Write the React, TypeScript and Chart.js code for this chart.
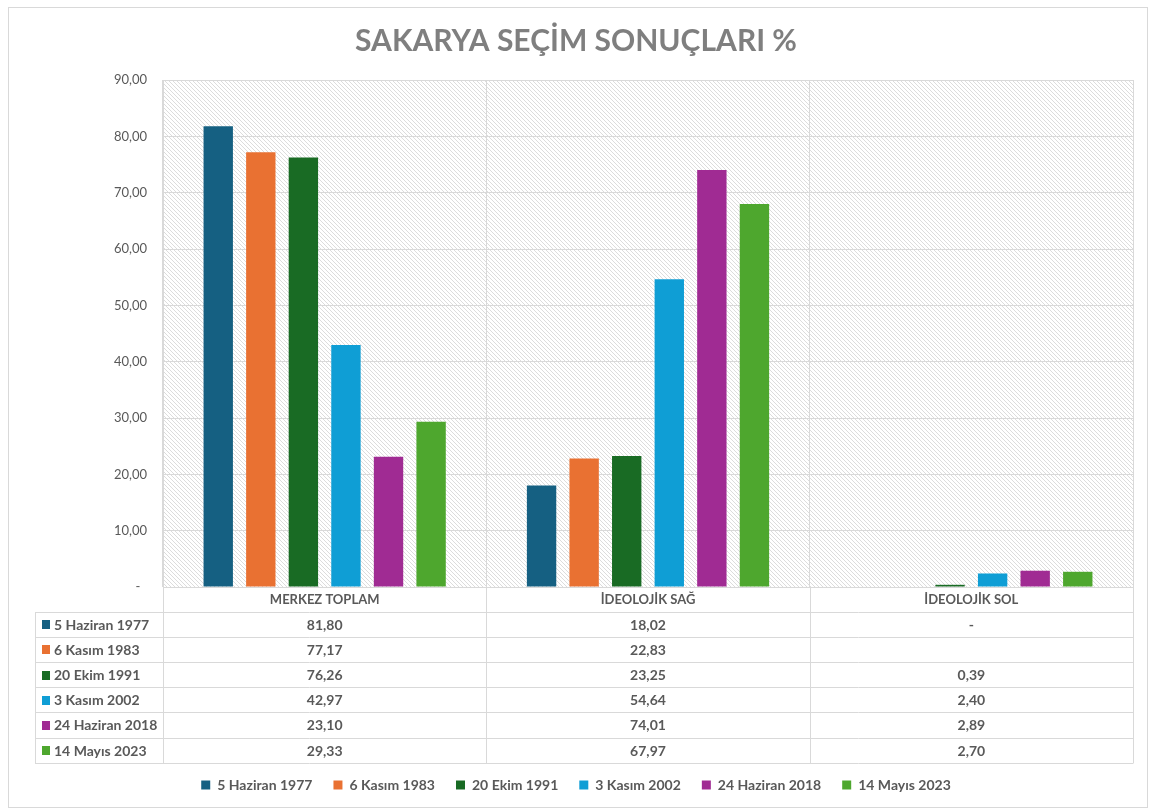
import React, { useEffect, useRef } from "react";
import { Chart, registerables } from "chart.js";

Chart.register(...registerables);

const categories = ["MERKEZ TOPLAM", "İDEOLOJİK SAĞ", "İDEOLOJİK SOL"];
const seriesNames = [
  "5 Haziran 1977",
  "6 Kasım 1983",
  "20 Ekim 1991",
  "3 Kasım 2002",
  "24 Haziran 2018",
  "14 Mayıs 2023",
];
const seriesColors = ["#156082", "#E97132", "#196B24", "#0F9ED5", "#A02B93", "#4EA72E"];
const values1977: (number | null)[] = [81.8, 18.02, 0];
const values1983: (number | null)[] = [77.17, 22.83, null];
const values1991: (number | null)[] = [76.26, 23.25, 0.39];
const values2002: (number | null)[] = [42.97, 54.64, 2.4];
const values2018: (number | null)[] = [23.1, 74.01, 2.89];
const values2023: (number | null)[] = [29.33, 67.97, 2.7];
const seriesValues = [values1977, values1983, values1991, values2002, values2018, values2023];
const yMin = 0;
const yMax = 90;
const yStep = 10;
const titleText = "SAKARYA SEÇİM SONUÇLARI %";

const FONT = "Lato, 'Noto Sans', sans-serif";
const GRID = "#d9d9d9";
const TEXT = "#595959";

function fmt(v: number | null | undefined): string {
  if (v === null || v === undefined) return "";
  if (v === 0) return "-";
  return v.toFixed(2).replace(".", ",");
}

function makePattern(): CanvasPattern | string {
  const c = document.createElement("canvas");
  c.width = 4;
  c.height = 4;
  const g = c.getContext("2d");
  if (!g) return "#f0f0f0";
  g.fillStyle = "#ffffff";
  g.fillRect(0, 0, 4, 4);
  g.fillStyle = "#dcdcdc";
  for (let i = 0; i < 4; i++) g.fillRect(i, i, 1, 1);
  const p = g.createPattern(c, "repeat");
  return p || "#f0f0f0";
}

const bgPlugin = {
  id: "hatchBg",
  beforeDraw(chart: any) {
    const { ctx, chartArea } = chart;
    ctx.save();
    ctx.fillStyle = "#ffffff";
    ctx.fillRect(0, 0, chart.width, chart.height);
    ctx.fillStyle = makePattern();
    ctx.fillRect(chartArea.left, chartArea.top, chartArea.right - chartArea.left, chartArea.bottom - chartArea.top);
    ctx.restore();
  },
};

const tablePlugin = {
  id: "dataTable",
  afterDraw(chart: any) {
    const { ctx, chartArea, scales } = chart;
    const xs = scales.x;
    const left = chartArea.left;
    const right = chartArea.right;
    const bottom = chartArea.bottom;
    const headerH = 24.5;
    const rowH = 25.2;
    const tableLeft = 35;
    const n = categories.length;
    const tableBottom = bottom + headerH + rowH * seriesNames.length;
    const r = (v: number) => Math.round(v) + 0.5;

    ctx.save();
    ctx.strokeStyle = GRID;
    ctx.lineWidth = 1;
    ctx.beginPath();
    ctx.moveTo(left, r(bottom));
    ctx.lineTo(right, r(bottom));
    for (let i = 0; i <= seriesNames.length; i++) {
      const y = r(bottom + headerH + i * rowH);
      ctx.moveTo(tableLeft, y);
      ctx.lineTo(right, y);
    }
    ctx.moveTo(r(tableLeft), r(bottom + headerH));
    ctx.lineTo(r(tableLeft), r(tableBottom));
    for (let i = 0; i <= n; i++) {
      const x = r(left + (i * (right - left)) / n);
      ctx.moveTo(x, r(bottom));
      ctx.lineTo(x, r(tableBottom));
    }
    ctx.stroke();

    ctx.fillStyle = TEXT;
    ctx.textAlign = "center";
    ctx.textBaseline = "middle";
    ctx.font = `bold 13px ${FONT}`;
    categories.forEach((c, i) => {
      ctx.fillText(c, xs.getPixelForValue(i), bottom + headerH / 2 + 1);
    });

    seriesNames.forEach((name, si) => {
      const yc = bottom + headerH + si * rowH + rowH / 2 + 1;
      ctx.fillStyle = seriesColors[si];
      ctx.fillRect(42, Math.round(yc - 5), 8, 9);
      ctx.fillStyle = TEXT;
      ctx.font = `bold 14px ${FONT}`;
      ctx.textAlign = "left";
      ctx.fillText(name, 54, yc);
      ctx.textAlign = "center";
      seriesValues[si].forEach((v, ci) => {
        ctx.fillText(fmt(v), xs.getPixelForValue(ci), yc);
      });
    });

    ctx.strokeStyle = GRID;
    ctx.strokeRect(8.5, 7.5, 1139, 800);
    ctx.restore();
  },
};

export default function App() {
  const ref = useRef<HTMLCanvasElement | null>(null);

  useEffect(() => {
    if (!ref.current) return;
    const chart = new Chart(ref.current, {
      type: "bar",
      data: {
        labels: categories,
        datasets: seriesNames.map((name, i) => ({
          label: name,
          data: seriesValues[i],
          backgroundColor: seriesColors[i],
          borderWidth: 0,
          categoryPercentage: 0.79,
          barPercentage: 0.69,
        })),
      },
      options: {
        animation: false,
        responsive: true,
        maintainAspectRatio: false,
        layout: { padding: { left: 0, right: 0, top: 0, bottom: 10 } },
        plugins: {
          title: {
            display: true,
            text: titleText,
            color: "#7f7f7f",
            font: { family: FONT, size: 30, weight: "bold" },
            padding: { top: 23, bottom: 21 },
          },
          legend: {
            position: "bottom",
            labels: {
              boxWidth: 9,
              boxHeight: 9,
              color: TEXT,
              font: { family: FONT, size: 14, weight: "bold" },
              padding: 21,
            },
          },
          tooltip: { enabled: false },
        },
        scales: {
          x: {
            grid: { display: true, offset: true, color: GRID, drawTicks: false },
            border: { display: true, color: GRID },
            ticks: { display: false },
            afterFit: (s: any) => {
              s.height = 170;
            },
          },
          y: {
            min: yMin,
            max: yMax,
            ticks: {
              stepSize: yStep,
              padding: 16,
              color: TEXT,
              font: { family: FONT, size: 13 },
              callback: (v: any) => (Number(v) === 0 ? "-  " : Number(v).toFixed(2).replace(".", ",")),
            },
            grid: { color: GRID, drawTicks: false },
            border: { display: true, color: GRID },
            afterFit: (s: any) => {
              s.width = 163;
            },
          },
          yRight: {
            position: "right",
            display: true,
            grid: { display: false, drawTicks: false },
            border: { display: false },
            ticks: { display: false },
            afterFit: (s: any) => {
              s.width = 19;
            },
          },
        },
      },
      plugins: [bgPlugin, tablePlugin],
    });
    return () => chart.destroy();
  }, []);

  return (
    <div style={{ position: "absolute", left: 0, top: 0, width: 1152, height: 812 }}>
      <canvas ref={ref} />
    </div>
  );
}
